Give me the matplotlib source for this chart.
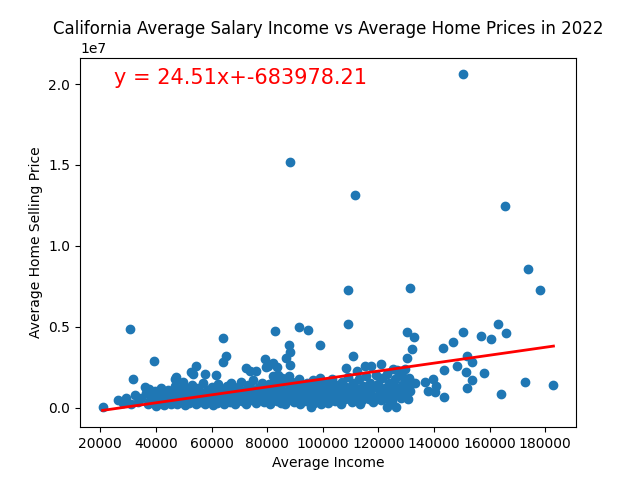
import numpy as np
import matplotlib
matplotlib.use('Agg')
import matplotlib.pyplot as plt

# average income (thousands of dollars) and average home selling price (millions)
income_k = [
    20.8, 26.2, 29.3, 28.0, 31.0, 32.5, 31.9, 30.8, 33.5, 34.5,
    35.9, 36.5, 37.0, 37.5, 38.0, 38.7, 39.4, 39.5, 40.0,
    40.5, 41.0, 41.5, 42.0, 42.5, 43.0, 43.5, 44.0, 44.5, 45.0,
    45.5, 46.0, 46.7, 46.5, 47.0, 47.2, 47.5, 48.0, 48.5, 49.0,
    49.7, 49.5, 50.0, 50.5, 51.0, 51.5, 52.0, 52.7, 52.5, 53.0,
    53.3, 53.5, 54.0, 54.5, 54.5, 55.0, 55.5, 56.0, 56.5, 57.0,
    57.5, 57.5, 58.0, 58.5, 59.0, 59.5, 60.0, 60.5, 61.0, 61.7,
    61.5, 62.0, 62.5, 63.0, 63.5, 64.1, 64.1, 65.3, 64.0, 64.5,
    65.0, 65.5, 66.0, 66.5, 67.0, 67.5, 68.0, 68.5, 69.0, 69.5,
    70.0, 70.5, 71.0, 71.5, 72.0, 72.5, 72.5, 73.0, 73.7, 73.5,
    74.0, 74.5, 75.0, 75.5, 76.1, 76.0, 76.5, 77.0, 77.5, 78.0,
    78.5, 79.1, 79.0, 79.7, 79.5, 80.0, 80.3, 80.5, 81.0, 81.5,
    82.1, 82.1, 82.0, 82.5, 82.8, 83.0, 83.7, 83.5, 84.0, 84.0,
    84.5, 85.0, 85.5, 85.5, 86.0, 86.5, 86.9, 87.0, 87.9, 87.9,
    87.5, 88.1, 88.1, 88.4, 88.0, 88.5, 89.0, 89.5, 90.0, 90.5,
    91.0, 91.4, 91.5, 92.0, 92.5, 93.0, 93.5, 94.0, 94.7, 94.5,
    95.0, 95.9, 95.5, 96.0, 96.5, 97.0, 97.5, 98.0, 98.9, 98.5,
    99.0, 99.5, 100.0, 100.5, 101.0, 101.5,
    102.0, 102.5, 103.0, 103.5, 104.0, 104.5, 105.0, 105.5, 106.0, 106.5,
    107.0, 107.5, 108.2, 108.0, 108.5, 109.0, 109.1, 109.0, 109.5, 110.0,
    110.9, 110.5, 111.5, 111.0, 111.5, 112.4, 112.0, 112.5, 113.3, 113.0,
    113.5, 114.0, 114.5, 115.1, 115.0, 115.5, 116.0, 116.5, 117.3, 117.0,
    117.5, 118.0, 118.5, 119.0, 119.5, 120.0, 120.5, 121.0, 121.0, 121.5,
    122.0, 122.5, 123.2, 123.0, 123.5, 124.0, 124.5, 125.4, 125.0, 125.5,
    126.2, 126.6, 126.0, 126.5, 127.0, 127.5, 128.0, 128.4, 128.5, 129.0,
    129.6, 129.5, 130.0, 130.4, 130.4, 130.5, 131.0, 131.4, 131.5, 132.2,
    132.9, 132.5, 133.2,
    136.8, 138.0, 139.8, 140.4, 140.7, 143.4, 143.6, 143.7, 147.0, 148.2,
    150.6, 150.5, 151.8, 151.4, 152.0, 153.6, 153.8, 157.1, 158.1, 160.7,
    163.2, 164.2, 165.8, 165.6, 172.6, 173.9, 178.2, 183.0,
]
price_m = [
    0.06, 0.48, 0.58, 0.30, 0.25, 0.80, 1.78, 4.87, 0.35, 0.60,
    1.30, 0.90, 0.20, 1.15, 0.45, 0.75, 2.89, 1.05, 0.10,
    0.55, 0.85, 0.30, 1.20, 0.65, 0.15, 0.95, 0.40, 1.10, 0.70,
    0.25, 0.50, 1.78, 0.90, 1.35, 1.88, 0.20, 0.60, 1.00, 0.35,
    1.61, 0.80, 1.25, 0.15, 0.55, 1.05, 0.30, 2.19, 0.75, 1.40,
    2.08, 0.45, 0.95, 2.56, 0.20, 1.20, 0.60, 0.35, 0.85, 1.50,
    2.09, 0.25, 0.70, 1.10, 0.40, 0.90, 1.30, 0.15, 0.55, 2.04,
    1.00, 0.30, 1.45, 0.75, 0.45, 4.31, 2.79, 3.16, 1.15, 0.20,
    0.60, 1.35, 0.90, 0.35, 1.55, 0.70, 1.05, 0.25, 0.50, 1.25,
    0.85, 1.60, 0.40, 1.00, 0.65, 2.43, 0.20, 1.40, 2.29, 0.80,
    0.45, 1.15, 1.70, 0.60, 2.29, 0.30, 0.95, 1.30, 0.50, 1.55,
    0.75, 3.01, 0.35, 2.49, 1.10, 0.60, 2.56, 1.45, 0.25, 0.90,
    2.74, 1.98, 1.20, 0.55, 4.72, 1.65, 2.49, 0.40, 2.04, 0.85,
    1.35, 0.30, 1.80, 1.05, 0.65, 0.20, 3.08, 1.50, 3.88, 1.98,
    0.45, 3.42, 15.17, 2.64, 1.10, 0.75, 1.60, 0.35, 1.25, 0.55,
    0.90, 5.01, 1.75, 0.25, 1.40, 0.70, 1.05, 0.40, 4.81, 1.55,
    0.85, 0.03, 1.20, 0.50, 1.70, 0.30, 0.95, 1.35, 3.88, 0.65,
    1.85, 0.20, 1.10, 0.45, 1.50, 0.80,
    0.30, 1.25, 0.60, 1.75, 0.95, 0.40, 1.40, 0.70, 1.10, 0.25,
    1.60, 0.85, 2.43, 0.50, 1.30, 7.30, 5.18, 1.90, 0.65, 1.05,
    3.16, 0.35, 13.12, 1.50, 0.80, 2.29, 1.20, 0.55, 0.23, 1.75,
    0.95, 0.45, 1.35, 2.60, 0.70, 1.95, 1.10, 0.50, 2.56, 1.55,
    0.85, 0.35, 1.25, 2.00, 0.65, 1.45, 1.00, 2.70, 0.45, 1.80,
    0.80, 1.20, 0.03, 2.10, 0.55, 1.55, 0.95, 2.39, 0.40, 1.35,
    0.02, 2.35, 1.75, 0.75, 1.10, 2.05, 0.60, 1.98, 1.40, 0.90,
    2.40, 1.65, 1.20, 3.08, 4.66, 0.50, 1.85, 7.37, 1.00, 3.63,
    4.39, 1.50, 1.53,
    1.57, 1.05, 1.78, 0.95, 1.36, 3.70, 0.66, 2.33, 4.07, 2.60,
    4.69, 20.60, 3.16, 2.21, 1.22, 2.80, 1.71, 4.44, 2.15, 4.25,
    5.18, 0.85, 4.62, 12.44, 1.59, 8.54, 7.24, 1.41,
]

slope = 24.51
intercept = -683978.21

x_values = np.array(income_k) * 1000
y_values = np.array(price_m) * 1e6

regress_values = x_values * slope + intercept
line_eq = "y = " + str(slope) + "x+" + str(intercept)

plt.scatter(x_values, y_values)
plt.plot(x_values, regress_values, "r-", linewidth=2)
plt.annotate(line_eq, (25000, 20000000), fontsize=15, color="red")
plt.title('California Average Salary Income vs Average Home Prices in 2022')
plt.xlabel('Average Income')
plt.ylabel('Average Home Selling Price')
plt.savefig('out.png')
